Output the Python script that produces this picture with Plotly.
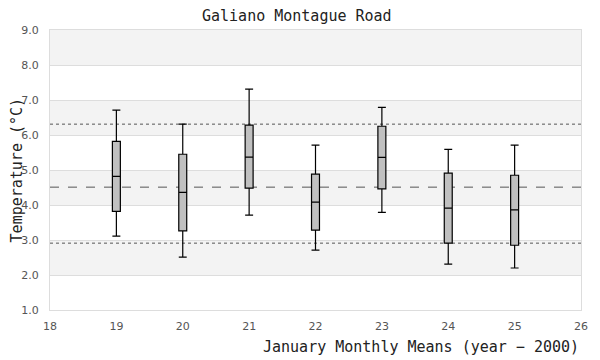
import plotly.graph_objects as go

years = [19, 20, 21, 22, 23, 24, 25]
upper = [6.71, 6.31, 7.31, 5.71, 6.79, 5.59, 5.71]
q3 = [5.82, 5.45, 6.28, 4.88, 6.25, 4.91, 4.85]
median = [4.82, 4.36, 5.37, 4.08, 5.36, 3.91, 3.86]
q1 = [3.82, 3.26, 4.48, 3.28, 4.46, 2.91, 2.85]
lower = [3.11, 2.51, 3.71, 2.71, 3.79, 2.31, 2.20]

mean_line = 4.51
sd_high = 6.31
sd_low = 2.91

x_ticks = [18, 19, 20, 21, 22, 23, 24, 25, 26]
y_ticks = [1.0, 2.0, 3.0, 4.0, 5.0, 6.0, 7.0, 8.0, 9.0]
band_ranges = [(2.0, 3.0), (4.0, 5.0), (6.0, 7.0), (8.0, 9.0)]

mono = "DejaVu Sans Mono"

fig = go.Figure()
fig.add_trace(go.Box(
    x=years, q1=q1, median=median, q3=q3,
    lowerfence=lower, upperfence=upper,
    width=0.12, whiskerwidth=1,
    fillcolor="#c0c0c0",
    line=dict(color="black", width=1.2),
    boxpoints=False, hoverinfo="skip", showlegend=False,
))

shapes = []
for lo, hi in band_ranges:
    shapes.append(dict(type="rect", xref="paper", yref="y", x0=0, x1=1, y0=lo, y1=hi,
                       fillcolor="#f3f3f3", line=dict(width=0), layer="below"))
for val, dash in [(sd_high, "dot"), (mean_line, "dash"), (sd_low, "dot")]:
    shapes.append(dict(type="line", xref="paper", yref="y", x0=0, x1=1, y0=val, y1=val,
                       line=dict(color="#555555", width=1, dash=dash), layer="below"))

W, H = 592, 352
L, R, T, B = 42, 12, 22, 50
pw, ph = W - L - R, H - T - B

fig.update_layout(
    width=W, height=H,
    margin=dict(l=L, r=R, t=T, b=B),
    paper_bgcolor="white", plot_bgcolor="white",
    shapes=shapes,
    xaxis=dict(range=[18, 26], tickvals=x_ticks, ticktext=[str(v) for v in x_ticks],
               showgrid=False, zeroline=False, showline=True, linecolor="#dddddd", mirror=True,
               ticks="outside", ticklen=6, tickcolor="rgba(0,0,0,0)",
               tickfont=dict(family="DejaVu Sans", size=11, color="#555555")),
    yaxis=dict(range=[1, 9], tickvals=y_ticks, ticktext=[f"{v:.1f}" for v in y_ticks],
               showgrid=True, gridcolor="#dddddd", zeroline=False, showline=True,
               linecolor="#dddddd", mirror=True,
               ticks="outside", ticklen=8, tickcolor="rgba(0,0,0,0)",
               tickfont=dict(family="DejaVu Sans", size=11, color="#555555")),
    annotations=[
        dict(text="Galiano Montague Road", xref="paper", yref="paper",
             x=(300 - 8 - L) / pw, y=1 + (T - 8) / ph, xanchor="center", yanchor="middle",
             showarrow=False, font=dict(family=mono, size=15, color="#222222")),
        dict(text="January Monthly Means (year − 2000)", xref="paper", yref="paper",
             x=1.0, y=-37 / ph, xanchor="right", yanchor="middle", showarrow=False,
             font=dict(family=mono, size=15, color="#222222")),
        dict(text="Temperature (°C)", xref="paper", yref="paper",
             x=-33 / pw, y=0.5, xanchor="center", yanchor="middle", textangle=-90,
             showarrow=False, font=dict(family=mono, size=15, color="#222222")),
    ],
)

fig.write_html("out.html")
